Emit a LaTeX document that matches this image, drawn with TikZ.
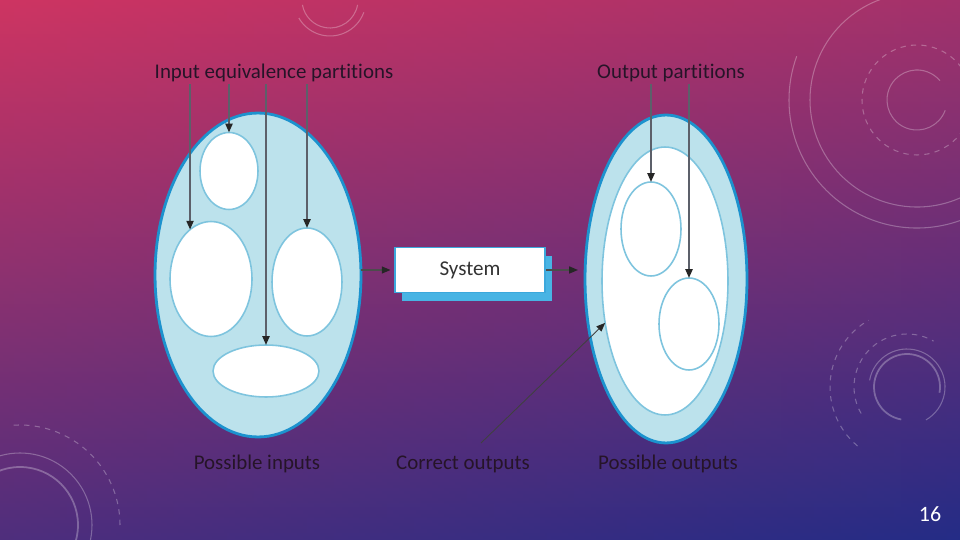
\documentclass[tikz,border=0pt]{standalone}
\usepackage{fontspec}
\setmainfont{Carlito}[Ligatures = NoCommon]
\usetikzlibrary{shapes.geometric,arrows.meta,shadows}

\definecolor{bgtop}{RGB}{206,52,98}
\definecolor{bgmid}{RGB}{128,44,128}
\definecolor{bgbot}{RGB}{36,44,134}
\definecolor{setfill}{RGB}{188,226,236}
\definecolor{setline}{RGB}{28,146,206}
\definecolor{partline}{RGB}{126,196,222}
\definecolor{labeltext}{RGB}{38,20,40}
\definecolor{arrowgray}{RGB}{92,96,106}
\definecolor{sysline}{RGB}{60,168,220}
\definecolor{sysshadow}{RGB}{72,180,228}

\begin{document}
\begin{tikzpicture}[
    x = 0.02cm, y = -0.02cm,
    bigset/.style = {
        draw = setline,
        line width = 1.6pt,
        fill = setfill,
        ellipse,
        inner sep = 0pt,
        outer sep = 0pt
    },
    part/.style = {
        draw = partline,
        line width = 0.9pt,
        fill = white,
        ellipse,
        inner sep = 0pt,
        outer sep = 0pt
    },
    sysbox/.style = {
        draw = sysline,
        line width = 1.1pt,
        fill = white,
        rectangle,
        minimum width = 3cm,
        minimum height = 0.9cm,
        drop shadow = {shadow xshift = 4pt, shadow yshift = -5pt, fill = sysshadow, opacity = 1},
        font = \fontsize{12}{14}\selectfont,
        text = black!80
    },
    settext/.style = {
        font = \fontsize{11.9}{14}\selectfont,
        text = labeltext,
        inner sep = 1pt
    },
    partarrow/.style = {draw = arrowgray, line width = 1.1pt, -{Triangle[length = 5pt, width = 4pt, color = black!85]}},
    flowarrow/.style = {draw = black!70, line width = 0.7pt, -{Triangle[length = 5pt, width = 4pt, color = black!85]}},
    thinarrow/.style = {draw = black!75, line width = 0.5pt, -{Triangle[length = 5pt, width = 4pt, color = black!85]}},
    ring/.style = {draw = white, opacity = 0.28, line width = 0.6pt}
]

\useasboundingbox (0, 0) rectangle (960, 540);

% Slide background
\shade[top color = bgtop, middle color = bgmid, bottom color = bgbot] (0, 0) rectangle (960, 540);
\shade[left color = bgtop, right color = bgbot, opacity = 0.25] (0, 0) rectangle (960, 540);

% Background dials
\draw[ring] (917, 100) ++(20:30) arc[start angle = 20, end angle = 320, radius = 30];
\draw[ring, dashed] (917, 100) circle[radius = 55];
\draw[ring] (917, 100) ++(60:107) arc[start angle = 60, end angle = 250, radius = 107];
\draw[ring] (917, 100) ++(30:128) arc[start angle = 30, end angle = 200, radius = 128];
\draw[ring, line width = 1pt] (907, 387) ++(100:33) arc[start angle = 100, end angle = 370, radius = 33];
\draw[ring] (907, 387) ++(190:38) arc[start angle = 190, end angle = 420, radius = 38];
\draw[ring, dashed] (907, 387) ++(150:53) arc[start angle = 150, end angle = 300, radius = 53];
\draw[ring, dashed] (907, 387) ++(130:77) arc[start angle = 130, end angle = 240, radius = 77];
\draw[ring, line width = 1pt] (20, 525) circle[radius = 58];
\draw[ring] (20, 525) circle[radius = 72];
\draw[ring, dashed] (20, 525) ++(0:100) arc[start angle = 0, end angle = -95, radius = 100];
\draw[ring] (330, 0) ++(10:28) arc[start angle = 10, end angle = 170, radius = 28];
\draw[ring] (330, 0) ++(20:36) arc[start angle = 20, end angle = 150, radius = 36];

% Possible inputs
\node[bigset, minimum width = 4.12cm, minimum height = 6.48cm] (inputs) at (258, 275) {};
\node[part, minimum width = 1.16cm, minimum height = 1.54cm] (inTop) at (229, 171) {};
\node[part, minimum width = 1.64cm, minimum height = 2.3cm] (inLeft) at (211, 279) {};
\node[part, minimum width = 1.4cm, minimum height = 2.16cm] (inRight) at (307, 282) {};
\node[part, minimum width = 2.12cm, minimum height = 1.04cm] (inBottom) at (266, 371) {};

% Possible outputs
\node[bigset, minimum width = 3.24cm, minimum height = 6.56cm] (outputs) at (666, 279) {};
\node[part, minimum width = 2.52cm, minimum height = 5.36cm] (correct) at (665, 281) {};
\node[part, minimum width = 1.2cm, minimum height = 1.88cm] (outA) at (651, 229) {};
\node[part, minimum width = 1.2cm, minimum height = 1.84cm] (outB) at (689, 324) {};

% System
\node[sysbox] (system) at (470, 270) {System};

% Labels
\node[settext] (inLabel) at (274, 73) {Input equivalence partitions};
\node[settext] (outLabel) at (671, 73) {Output partitions};
\node[settext] (inCaption) at (257, 464) {Possible inputs};
\node[settext] (corrCaption) at (463, 464) {Correct outputs};
\node[settext] (outCaption) at (668, 464) {Possible outputs};
\node[font = \fontsize{12.5}{14}\selectfont, text = white] (slideNum) at (930, 514) {16};

% Partition arrows
\draw[partarrow] (inLabel.south -| inLeft.113) -- (inLeft.113);
\draw[partarrow] (inLabel.south -| inTop.north) -- (inTop.north);
\draw[partarrow] (inLabel.south -| inBottom.north) -- (inBottom.north);
\draw[partarrow] (inLabel.south -| inRight.north) -- (inRight.north);
\draw[partarrow] (outLabel.south -| outA.north) -- (outA.north);
\draw[partarrow] (outLabel.south -| outB.north) -- (outB.north);

% Flow through the system
\draw[flowarrow, shorten > = 2pt] (system.west -| inputs.east) -- (system.west);
\draw[flowarrow, shorten > = 4pt] (system.east) -- (system.east -| outputs.west);

% Correct outputs pointer
\coordinate (corrTail) at (481, 443);
\draw[thinarrow] (corrTail) -- (correct.215);

\end{tikzpicture}
\end{document}
